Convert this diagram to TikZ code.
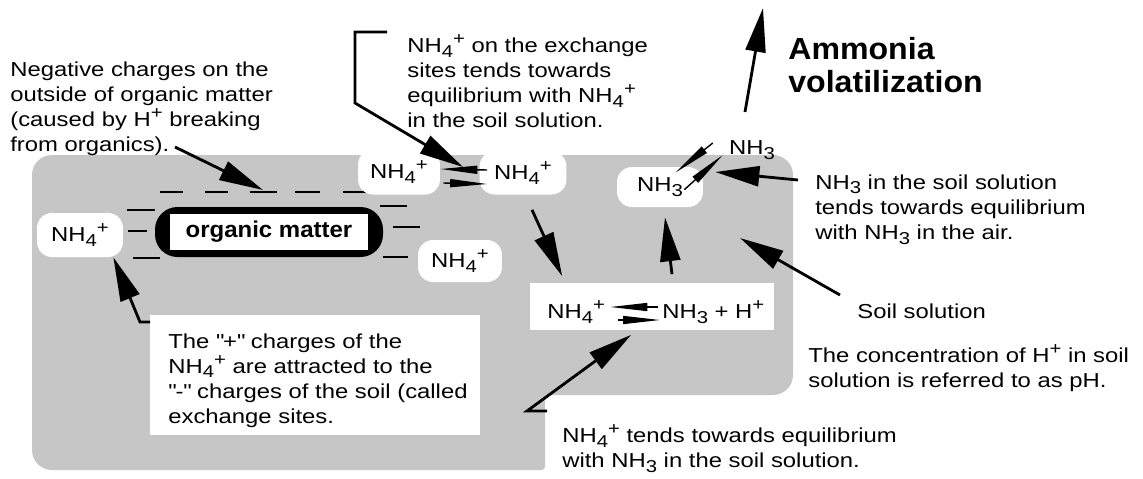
\documentclass[tikz,border=0pt]{standalone}
\usepackage{fontspec}
\setmainfont{Liberation Sans}[FakeStretch=1.18]
\newfontfamily\headfont{Liberation Sans}[FakeStretch=1.05]
\usetikzlibrary{arrows.meta}
\newcommand{\bodysize}{\fontsize{11.5}{14.3}\selectfont}
\newcommand{\lowidx}[1]{\raisebox{-0.45ex}{\fontsize{9.8}{10}\selectfont #1}}
\newcommand{\highidx}[1]{\raisebox{0.75ex}{\fontsize{9.8}{10}\selectfont #1}}
\newcommand{\nhfour}{NH\lowidx{4}\highidx{+}}
\newcommand{\nhthree}{NH\lowidx{3}}
\newcommand{\hplus}{H\highidx{+}}
\tikzset{
  soil/.style={fill=gray!45},
  blob/.style={fill=white, rounded corners=0.3cm, inner sep=0pt, font=\bodysize},
  note/.style={anchor=north west, align=left, inner sep=0pt, font=\bodysize},
  callout/.style={line width=1.6pt, -{Triangle[length=0.88cm, width=0.4cm]}},
  eqarrow/.style={line width=0.8pt, -{Triangle[length=0.74cm, width=0.16cm]}},
  charge/.style={line width=1.2pt},
}
\begin{document}
\begin{tikzpicture}[x=0.02cm, y=-0.02cm]
\useasboundingbox (0,0) rectangle (1143,478);
% soil solution background
\fill[soil, rounded corners=0.4cm] (400,155) -- (793,155) -- (793,395)
  [rounded corners=2pt] -- (545,395) -- (545,470)
  [rounded corners=0.4cm] -- (32,470) -- (32,155) -- cycle;
% organic matter
\fill[black, rounded corners=0.45cm] (155,207) rectangle (383,257);
\node[fill=white, inner sep=0pt, minimum width=3.96cm, minimum height=0.72cm,
  font=\headfont\bfseries\fontsize{13}{15}\selectfont] (om) at (269,232) {organic matter};
% negative charges round the organic matter
\foreach \xa/\xb/\yy in {160/183/192, 205/228/192, 250/277/192, 295/320/192, 343/368/192,
  127/155/210, 128/147/231, 133/160/258, 380/407/206, 393/420/227, 383/408/257} {
  \draw[charge] (\xa,\yy) -- (\xb,\yy);
}
% ammonium and ammonia pockets
\node[blob, minimum width=1.72cm, minimum height=0.88cm] (exL) at (80,235) {\nhfour};
\node[blob, minimum width=1.64cm, minimum height=0.9cm] (exA) at (399,172) {\nhfour};
\node[blob, minimum width=1.74cm, minimum height=0.86cm] (solA) at (523,173) {\nhfour};
\node[blob, minimum width=1.68cm, minimum height=0.84cm] (exB) at (460,261) {\nhfour};
\node[blob, minimum width=1.72cm, minimum height=0.8cm] (nh3s) at (660,187) {\nhthree};
\node[inner sep=0pt, font=\bodysize] (nh3air) at (752,150) {\nhthree};
% equilibrium in the soil solution
\node[fill=white, inner sep=0pt, minimum width=4.9cm, minimum height=0.94cm] (eqbox) at (652,306) {};
\node[inner sep=0pt, font=\bodysize, anchor=west] (eqL) at (547,312) {\nhfour};
\node[inner sep=0pt, font=\bodysize, anchor=west] (eqR) at (662,312) {\nhthree{} + \hplus};
% white box for the exchange sites note
\node[fill=white, anchor=north west, inner sep=0pt, minimum width=6.6cm, minimum height=2.4cm] (plusbox) at (150,315) {};
% notes
\node[note] (neg) at (10,61) {Negative charges on the\\outside of organic matter\\(caused by \hplus{} breaking\\from organics).};
\node[note] (exnote) at (407,34) {\nhfour{} on the exchange\\sites tends towards\\equilibrium with \nhfour\\in the soil solution.};
\node[note, font=\headfont\bfseries\fontsize{17.4}{18.8}\selectfont] (title) at (788,37) {Ammonia\\volatilization};
\node[note] (nh3note) at (815,174) {\nhthree{} in the soil solution\\tends towards equilibrium\\with \nhthree{} in the air.};
\node[note] (soiltxt) at (857,303) {Soil solution};
\node[note] (conc) at (808,344) {The concentration of \hplus{} in soil\\solution is referred to as pH.};
\node[note] (tends) at (562,424) {\nhfour{} tends towards equilibrium\\with \nhthree{} in the soil solution.};
\node[note] (plustxt) at (168,333) {The \textquotedbl+\textquotedbl{} charges of the\\\nhfour{} are attracted to the\\\textquotedbl-\textquotedbl{} charges of the soil (called\\exchange sites.};
% equilibrium arrows
\draw[eqarrow] ([xshift=0.16cm, yshift=0.06cm]solA.west) -- ([yshift=0.06cm]exA.east);
\draw[eqarrow] ([xshift=0.06cm, yshift=-0.22cm]exA.east) -- ([xshift=0.16cm, yshift=-0.22cm]solA.west);
\draw[eqarrow] ([xshift=-0.08cm, yshift=0.1cm]eqR.west) -- ([xshift=0.1cm, yshift=0.1cm]eqL.east);
\draw[eqarrow] ([xshift=0.26cm, yshift=-0.16cm]eqL.east) -- ([xshift=-0.04cm, yshift=-0.16cm]eqR.west);
\draw[eqarrow] ([xshift=-0.32cm, yshift=0.14cm]nh3air.west) -- ([xshift=-0.56cm, yshift=-0.12cm]nh3s.north east);
\draw[eqarrow] ([xshift=-0.38cm, yshift=-0.46cm]nh3s.north east) -- ([xshift=-0.12cm, yshift=-0.1cm]nh3air.west);
% callouts
\coordinate (negtail) at (175,147);
\coordinate (dashtip) at (263,190);
\draw[callout] (negtail) -- (dashtip);
\coordinate (brA) at (387,32);
\coordinate (brB) at (355,32);
\coordinate (brC) at (355,103);
\coordinate (extip) at (463,167);
\draw[callout] (brA) -- (brB) -- (brC) -- (extip);
\coordinate (volbase) at (745,112);
\coordinate (voltip) at (763,8);
\draw[callout] (volbase) -- (voltip);
\draw[callout] ([xshift=-0.34cm, yshift=-0.12cm]nh3note.north west) -- ([xshift=0.24cm, yshift=0.3cm]nh3s.east);
\draw[callout] ([xshift=-0.34cm, yshift=0.16cm]soiltxt.north west) -- ([xshift=-2.34cm, yshift=1.3cm]soiltxt.north west);
\draw[callout] ([yshift=-0.14cm]plusbox.north west) -- ++(-10,0) -- ([xshift=-0.2cm]exL.south east);
\draw[callout] ([xshift=-0.3cm, yshift=0.26cm]tends.north west) -- ++(-20,0) -- ([xshift=2.04cm, yshift=-0.1cm]eqbox.south west);
\draw[callout] ([xshift=0.18cm, yshift=-0.3cm]solA.south) -- ([xshift=0.66cm, yshift=0.12cm]eqbox.north west);
\draw[callout] ([xshift=0.4cm, yshift=0.16cm]eqbox.north) -- ([xshift=0.1cm, yshift=-0.2cm]nh3s.south);
\end{tikzpicture}
\end{document}
